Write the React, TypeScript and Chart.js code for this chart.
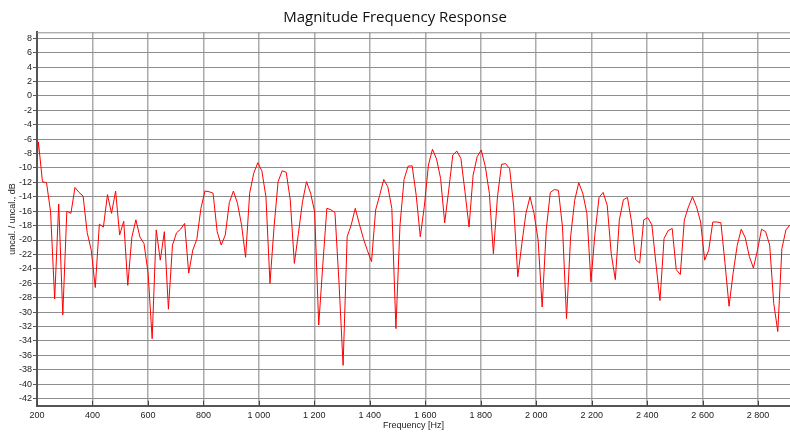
import React, { useEffect, useRef } from 'react';
import { Chart, registerables } from 'chart.js';

Chart.register(...registerables);

const frequencies: number[] = [
  190.4, 205.1, 219.7, 234.4, 249.0, 263.7, 278.3, 293.0, 307.6, 322.3,
  336.9, 351.6, 366.2, 380.8, 395.5, 410.1, 424.8, 439.4, 454.1, 468.7,
  483.4, 498.0, 512.7, 527.3, 542.0, 556.6, 571.3, 585.9, 600.6, 615.2,
  629.9, 644.5, 659.2, 673.8, 688.5, 703.1, 717.8, 732.4, 747.0, 761.7,
  776.3, 791.0, 805.6, 820.3, 834.9, 849.6, 864.2, 878.9, 893.5, 908.2,
  922.8, 937.5, 952.1, 966.8, 981.4, 996.1, 1010.7, 1025.4, 1040.0, 1054.7,
  1069.3, 1083.9, 1098.6, 1113.2, 1127.9, 1142.5, 1157.2, 1171.8, 1186.5, 1201.1,
  1215.8, 1230.4, 1245.1, 1259.7, 1274.4, 1289.0, 1303.7, 1318.3, 1333.0, 1347.6,
  1362.3, 1376.9, 1391.6, 1406.2, 1420.9, 1435.5, 1450.2, 1464.8, 1479.4, 1494.1,
  1508.7, 1523.4, 1538.0, 1552.7, 1567.3, 1582.0, 1596.6, 1611.3, 1625.9, 1640.6,
  1655.2, 1669.9, 1684.5, 1699.2, 1713.8, 1728.5, 1743.1, 1757.8, 1772.4, 1787.1,
  1801.7, 1816.4, 1831.0, 1845.6, 1860.3, 1874.9, 1889.6, 1904.2, 1918.9, 1933.5,
  1948.2, 1962.8, 1977.5, 1992.1, 2006.8, 2021.4, 2036.1, 2050.7, 2065.4, 2080.0,
  2094.7, 2109.3, 2124.0, 2138.6, 2153.3, 2167.9, 2182.6, 2197.2, 2211.8, 2226.5,
  2241.1, 2255.8, 2270.4, 2285.1, 2299.7, 2314.4, 2329.0, 2343.7, 2358.3, 2373.0,
  2387.6, 2402.3, 2416.9, 2431.6, 2446.2, 2460.9, 2475.5, 2490.2, 2504.8, 2519.5,
  2534.1, 2548.8, 2563.4, 2578.0, 2592.7, 2607.3, 2622.0, 2636.6, 2651.3, 2665.9,
  2680.6, 2695.2, 2709.9, 2724.5, 2739.2, 2753.8, 2768.5, 2783.1, 2797.8, 2812.4,
  2827.1, 2841.7, 2856.4, 2871.0, 2885.7, 2900.3, 2915.0,
];

const magnitudeDb: number[] = [
  -14.0, -6.4, -11.9, -12.05, -16.1, -28.2, -15.0, -30.4, -16.0, -16.3,
  -12.7, -13.4, -13.9, -18.95, -21.4, -26.6, -17.8, -18.2, -13.7, -16.3,
  -13.2, -19.3, -17.4, -26.3, -19.6, -17.2, -19.6, -20.5, -24.6, -33.7,
  -18.6, -22.8, -18.85, -29.6, -20.7, -19.0, -18.5, -17.7, -24.6, -21.4,
  -19.9, -15.6, -13.2, -13.3, -13.5, -18.85, -20.7, -19.3, -14.8, -13.2,
  -14.9, -17.9, -22.4, -13.5, -10.75, -9.27, -10.4, -14.0, -26.0, -18.2,
  -11.9, -10.4, -10.6, -14.45, -23.25, -19.1, -14.7, -11.9, -13.5, -16.1,
  -31.8, -23.5, -15.6, -15.8, -16.2, -26.0, -37.4, -19.55, -17.9, -15.6,
  -17.8, -19.8, -21.5, -23.0, -15.85, -13.8, -11.6, -12.6, -15.6, -32.3,
  -18.0, -11.6, -9.75, -9.7, -13.8, -19.55, -15.3, -9.6, -7.4, -8.76,
  -11.45, -17.6, -13.07, -8.2, -7.65, -8.7, -13.3, -18.2, -11.0, -8.44,
  -7.5, -9.8, -13.5, -21.9, -14.0, -9.5, -9.4, -10.1, -15.4, -25.1,
  -20.5, -16.3, -14.0, -16.3, -20.0, -29.3, -18.6, -13.4, -13.0, -13.1,
  -18.2, -30.9, -19.55, -14.5, -12.05, -13.5, -16.3, -25.8, -19.1, -14.1,
  -13.4, -15.15, -21.9, -25.5, -17.2, -14.4, -14.1, -17.5, -22.7, -23.2,
  -17.2, -16.9, -17.9, -23.25, -28.4, -19.8, -18.7, -18.4, -24.1, -24.8,
  -17.2, -15.4, -14.0, -15.4, -17.5, -22.8, -21.4, -17.5, -17.5, -17.6,
  -23.2, -29.2, -24.6, -20.8, -18.5, -19.7, -22.3, -23.9, -21.4, -18.5,
  -18.85, -20.7, -28.8, -32.7, -21.2, -18.6, -17.9,
];

const xTickValues: number[] = [200, 400, 600, 800, 1000, 1200, 1400, 1600, 1800, 2000, 2200, 2400, 2600, 2800];
const yTickValues: number[] = [-42, -40, -38, -36, -34, -32, -30, -28, -26, -24, -22, -20, -18, -16, -14, -12, -10, -8, -6, -4, -2, 0, 2, 4, 6, 8];

const chartTitle = 'Magnitude Frequency Response';
const xTitle = 'Frequency [Hz]';
const yTitle = 'uncal. / uncal., dB';

function formatHz(v: number): string {
  if (v >= 1000) {
    const th = Math.floor(v / 1000);
    const rest = String(Math.round(v % 1000)).padStart(3, '0');
    return `${th} ${rest}`;
  }
  return String(v);
}

export default function App() {
  const ref = useRef<HTMLCanvasElement | null>(null);

  useEffect(() => {
    const canvas = ref.current;
    if (!canvas) return;

    const framePlugin = {
      id: 'framePlugin',
      beforeDatasetsDraw(chart: any) {
        const { ctx, chartArea } = chart;
        ctx.save();
        ctx.strokeStyle = '#8e8e8e';
        ctx.lineWidth = 1;
        ctx.beginPath();
        ctx.moveTo(chartArea.left, chartArea.top + 0.5);
        ctx.lineTo(chartArea.right, chartArea.top + 0.5);
        ctx.stroke();
        ctx.restore();
      },
      afterDatasetsDraw(chart: any) {
        const { ctx, chartArea, scales } = chart;
        ctx.save();
        ctx.strokeStyle = '#444';
        ctx.lineWidth = 1;
        for (const v of xTickValues) {
          const px = Math.round(scales.x.getPixelForValue(v)) + 0.5;
          ctx.beginPath();
          ctx.moveTo(px, chartArea.bottom);
          ctx.lineTo(px, chartArea.bottom - 5);
          ctx.stroke();
        }
        ctx.restore();
      },
    };

    const chart = new Chart(canvas, {
      type: 'line',
      data: {
        datasets: [
          {
            data: frequencies.map((f, i) => ({ x: f, y: magnitudeDb[i] })),
            borderColor: '#ff0000',
            borderWidth: 1,
            pointRadius: 0,
            tension: 0,
            fill: false,
          },
        ],
      },
      options: {
        responsive: false,
        animation: false,
        layout: { padding: 0 },
        plugins: {
          legend: { display: false },
          tooltip: { enabled: false },
          title: {
            display: true,
            text: chartTitle,
            color: '#111',
            font: { family: 'Open Sans', size: 15, weight: 'normal' },
            padding: { top: 9, bottom: 5.3 },
          },
        },
        scales: {
          x: {
            type: 'linear',
            min: 200,
            max: 2915,
            afterBuildTicks: (s: any) => {
              s.ticks = xTickValues.map((v) => ({ value: v }));
            },
            afterFit: (s: any) => {
              s.height = 26.3;
            },
            ticks: {
              color: '#222',
              font: { family: 'Liberation Sans', size: 9 },
              padding: 4,
              maxRotation: 0,
              autoSkip: false,
              callback: (v: any) => formatHz(Number(v)),
            },
            grid: { color: '#ababab', lineWidth: 1.5, drawTicks: false, tickLength: 0 },
            border: { color: '#555', width: 2 },
            title: {
              display: true,
              text: xTitle,
              color: '#222',
              font: { family: 'Liberation Sans', size: 9 },
              padding: { top: 0, bottom: 1.2 },
            },
          },
          y: {
            type: 'linear',
            min: -43,
            max: 8.83,
            afterBuildTicks: (s: any) => {
              s.ticks = yTickValues.map((v) => ({ value: v }));
            },
            afterFit: (s: any) => {
              s.width = 37;
            },
            ticks: {
              color: '#222',
              font: { family: 'Liberation Sans', size: 9 },
              padding: 1,
              autoSkip: false,
              callback: (v: any) => String(v),
            },
            grid: { color: '#8e8e8e', lineWidth: 1, tickLength: 4, tickColor: '#555' },
            border: { color: '#555', width: 2 },
            title: {
              display: true,
              text: yTitle,
              color: '#222',
              font: { family: 'Liberation Sans', size: 9 },
              padding: { top: 7, bottom: 0 },
            },
          },
        },
      },
      plugins: [framePlugin],
    } as any);

    return () => chart.destroy();
  }, []);

  return (
    <div style={{ position: 'absolute', left: 0, top: 0, width: 790, height: 432, background: '#fff' }}>
      <canvas ref={ref} width={790} height={432} style={{ display: 'block' }} />
    </div>
  );
}
